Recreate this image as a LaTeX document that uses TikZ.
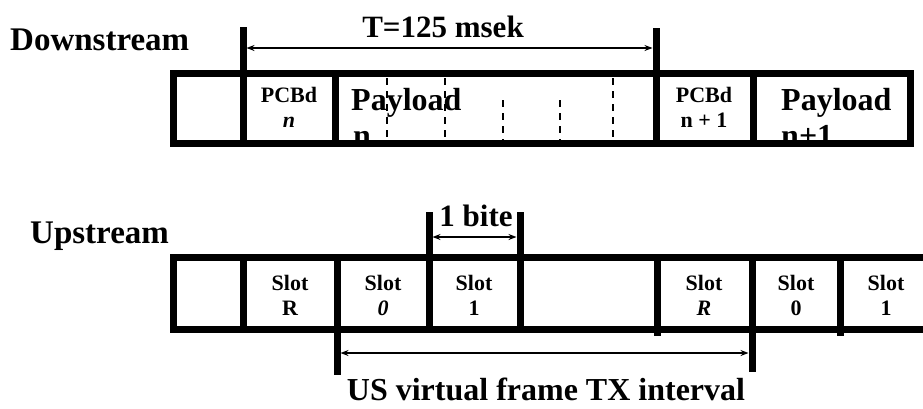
\documentclass[tikz,border=0pt]{standalone}
\usepackage{fontspec}
\setmainfont{Liberation Serif}
\usetikzlibrary{arrows.meta}
\begin{document}
\begin{tikzpicture}[x=1pt,y=-1pt,
  frame/.style={line width=7pt},
  dashln/.style={line width=2.5pt,dash pattern=on 7pt off 6pt},
  dimarrow/.style={line width=1.6pt,{Stealth[length=8pt,width=6pt]}-{Stealth[length=8pt,width=6pt]}},
  bigtxt/.style={font=\fontsize{33}{35}\selectfont\bfseries,inner sep=0pt},
  paytxt/.style={font=\fontsize{32}{34}\selectfont\bfseries,inner sep=0pt},
  midtxt/.style={font=\fontsize{31}{33}\selectfont\bfseries,inner sep=0pt},
  smalltxt/.style={font=\fontsize{22}{24}\selectfont\bfseries,inner sep=0pt,anchor=base}
]
\useasboundingbox (0,0) rectangle (923,408);
% ---------- Downstream ----------
\node[bigtxt,anchor=base west] (ds) at (10,50) {Downstream};
\node[midtxt,anchor=base] (tlab) at (443,37) {T=125 msek};
\node[paytxt,anchor=base west] (pl1) at (351,110) {Payload};
\node[paytxt,anchor=base west] (pl1n) at (353,146) {n};
\node[paytxt,anchor=base west] (pl2) at (781,110) {Payload};
\node[paytxt,anchor=base west] (pl2n) at (781,146) {n+1};
\node[smalltxt] (pc1) at (289,102) {PCBd};
\node[smalltxt] (pc1n) at (289,127) {\textit{n}};
\node[smalltxt] (pc2) at (704,102) {PCBd};
\node[smalltxt] (pc2n) at (704,127) {n + 1};
\draw[frame] (173,73) rectangle (910,143);
\draw[frame] (243,27) -- (243,143);
\draw[frame] (335,73) -- (335,143);
\draw[frame] (656,28) -- (656,143);
\draw[frame] (753,73) -- (753,143);
\draw[dashln] (387,78) -- (387,140);
\draw[dashln] (445,78) -- (445,140);
\draw[dashln] (503,100) -- (503,140);
\draw[dashln,line width=1.5pt] (560,100) -- (560,140);
\draw[dashln] (613,78) -- (613,140);
\coordinate (ta) at (246.5,48);
\coordinate (tb) at (652.5,48);
\draw[dimarrow] (ta) -- (tb);
% ---------- Upstream ----------
\node[bigtxt,anchor=base west] (us) at (30,243) {Upstream};
\node[midtxt,anchor=base] (bl) at (476,226) {1 bite};
\node[paytxt,anchor=base] (vl) at (546,400) {US virtual frame TX interval};
\node[smalltxt] (s1) at (290,290) {Slot};
\node[smalltxt] (s1b) at (290,315) {R};
\node[smalltxt] (s2) at (383,290) {Slot};
\node[smalltxt] (s2b) at (383,315) {\textit{0}};
\node[smalltxt] (s3) at (474,290) {Slot};
\node[smalltxt] (s3b) at (474,315) {1};
\node[smalltxt] (s4) at (704,290) {Slot};
\node[smalltxt] (s4b) at (704,315) {\textit{R}};
\node[smalltxt] (s5) at (796,290) {Slot};
\node[smalltxt] (s5b) at (796,315) {0};
\node[smalltxt] (s6) at (886,290) {Slot};
\node[smalltxt] (s6b) at (886,315) {1};
\draw[frame] (923,257) -- (173,257) -- (173,329) -- (923,329);
\draw[frame] (243,257) -- (243,329);
\draw[frame] (337,257) -- (337,375);
\draw[frame] (429,212) -- (429,329);
\draw[frame] (520,212) -- (520,329);
\draw[frame] (657,257) -- (657,336);
\draw[frame] (752,257) -- (752,372);
\draw[frame] (840,257) -- (840,336);
\coordinate (ba) at (432.5,237);
\coordinate (bb) at (516.5,237);
\draw[dimarrow] (ba) -- (bb);
\coordinate (va) at (340.5,353);
\coordinate (vb) at (748.5,353);
\draw[dimarrow] (va) -- (vb);
\end{tikzpicture}
\end{document}
